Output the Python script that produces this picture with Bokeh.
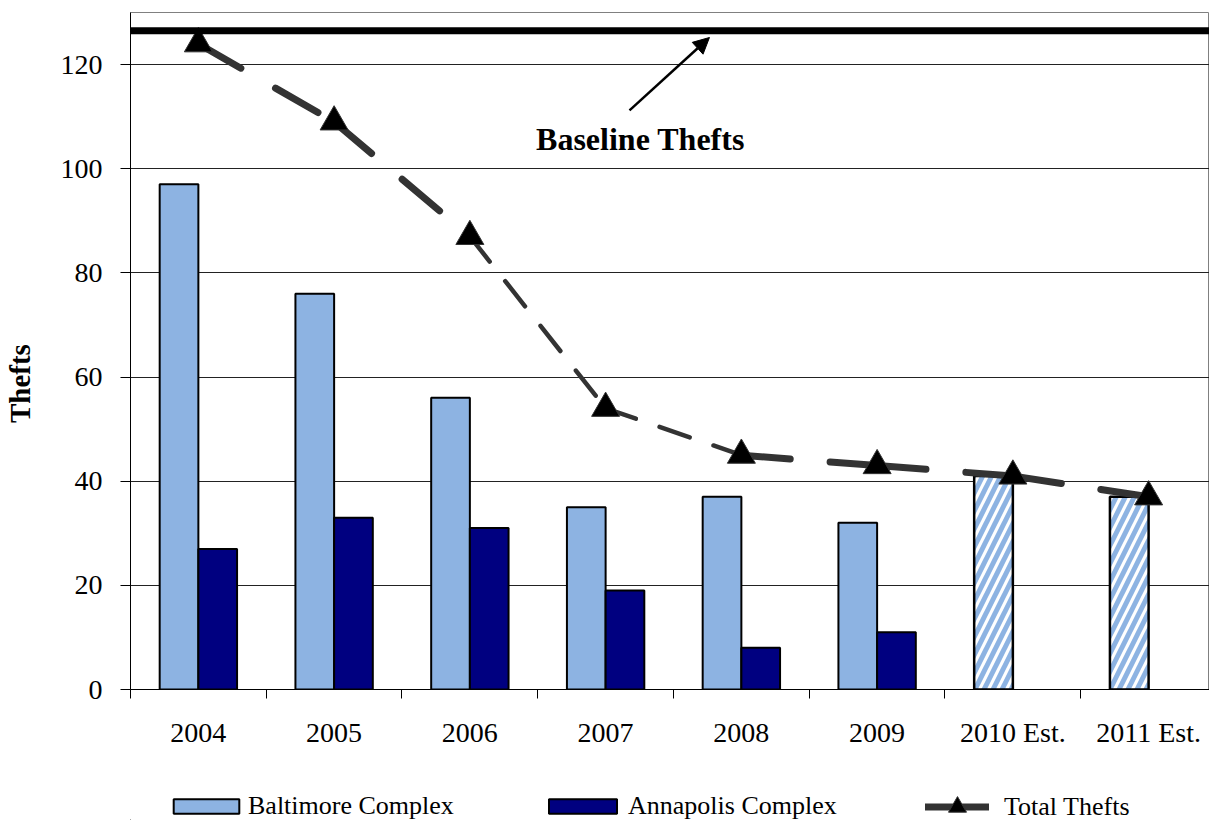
from bokeh.plotting import figure
from bokeh.layouts import column
from bokeh.models import (Range1d, FixedTicker, Span, Arrow, NormalHead, Label,
                          Legend, LegendItem)
from bokeh.embed import file_html
from bokeh.resources import INLINE

# ---- data -------------------------------------------------------------
years = ["2004", "2005", "2006", "2007", "2008", "2009", "2010 Est.", "2011 Est."]
baltimore = [97, 76, 56, 35, 37, 32]
annapolis = [27, 33, 31, 19, 8, 11]
estimated = [41, 37]
total_thefts = [124, 109, 87, 54, 45, 43, 41, 37]
baseline_thefts = 126.5
y_ticks = [0, 20, 40, 60, 80, 100, 120]

# ---- styling ----------------------------------------------------------
FONT = "Liberation Serif"
LIGHT_BLUE = "#8DB3E2"
NAVY = "#000080"
LINE_GREY = "#333333"
BAR_W = 0.285
PX_PER_CAT = 136
FRAME_LEFT = 128
FIG_W = 1209
CHART_H, LEGEND_H = 750, 70

BALT_STYLE = dict(fill_color=LIGHT_BLUE, line_color="black", line_width=2)
ANNA_STYLE = dict(fill_color=NAVY, line_color="black", line_width=2)
TOTAL_LINE_STYLE = dict(line_color=LINE_GREY, line_width=7, line_cap="round")
TRIANGLE_STYLE = dict(marker="triangle", size=28, fill_color="black",
                      line_color=LINE_GREY, line_width=1)

idx = list(range(len(years)))
n_actual = len(baltimore)
actual_idx = idx[:n_actual]
est_idx = idx[n_actual:]

frame_w = FIG_W - FRAME_LEFT
p = figure(width=FIG_W, height=CHART_H, output_backend="svg", toolbar_location=None,
           x_range=Range1d(-0.5, -0.5 + frame_w / PX_PER_CAT), y_range=Range1d(0, 130),
           min_border_left=FRAME_LEFT, min_border_right=0, min_border_top=12,
           min_border_bottom=61)
p.outline_line_color = "#808080"
p.background_fill_color = "white"

# axes
p.xgrid.visible = False
p.ygrid.ticker = FixedTicker(ticks=y_ticks)
p.ygrid.grid_line_color = "#222222"
p.ygrid.grid_line_width = 1

p.yaxis.ticker = FixedTicker(ticks=y_ticks, minor_ticks=[])
p.yaxis.major_tick_out = 10
p.yaxis.major_tick_in = 0
p.yaxis.minor_tick_line_color = None
p.yaxis.major_label_standoff = 18
p.yaxis.major_label_text_font = FONT
p.yaxis.major_label_text_font_size = "28px"
p.yaxis.major_label_text_color = "black"
p.yaxis.axis_line_color = "black"
p.yaxis.major_tick_line_color = "black"
# trailing no-break spaces push the title a little below the frame centre
p.yaxis.axis_label = "Thefts" + "\u00a0" * 9
p.yaxis.axis_label_text_font = FONT
p.yaxis.axis_label_text_font_style = "bold"
p.yaxis.axis_label_text_font_size = "29px"
p.yaxis.axis_label_text_color = "black"
p.yaxis.axis_label_standoff = 22

boundaries = [i - 0.5 for i in idx] + [idx[-1] + 0.5]
p.xaxis.ticker = FixedTicker(ticks=idx, minor_ticks=boundaries)
p.xaxis.major_label_overrides = {i: y for i, y in zip(idx, years)}
p.xaxis.major_tick_line_color = None
p.xaxis.major_tick_out = 0
p.xaxis.major_tick_in = 0
p.xaxis.minor_tick_line_color = "black"
p.xaxis.minor_tick_out = 9
p.xaxis.minor_tick_in = 0
p.xaxis.axis_line_color = "black"
p.xaxis.major_label_standoff = 18
p.xaxis.major_label_text_font = FONT
p.xaxis.major_label_text_font_size = "28px"
p.xaxis.major_label_text_color = "black"

# baseline
p.add_layout(Span(location=baseline_thefts, dimension="width",
                  line_color="black", line_width=7))

# bars
p.vbar(x=[i - BAR_W / 2 for i in actual_idx], top=baltimore, width=BAR_W, **BALT_STYLE)
p.vbar(x=[i + BAR_W / 2 for i in actual_idx], top=annapolis, width=BAR_W, **ANNA_STYLE)
p.vbar(x=[i - BAR_W / 2 for i in est_idx], top=estimated, width=BAR_W,
       fill_color="white", hatch_pattern="/", hatch_color=LIGHT_BLUE,
       hatch_scale=18, hatch_weight=5, line_color="black", line_width=2.5)

# total thefts line, drawn segment by segment
thin_segments = {2, 3}
seg = {"thick": ([], [], [], []), "thin": ([], [], [], [])}
for k in range(len(idx) - 1):
    key = "thin" if k in thin_segments else "thick"
    seg[key][0].append(idx[k]); seg[key][1].append(total_thefts[k])
    seg[key][2].append(idx[k + 1]); seg[key][3].append(total_thefts[k + 1])
p.segment(x0=seg["thick"][0], y0=seg["thick"][1], x1=seg["thick"][2], y1=seg["thick"][3],
          line_color=LINE_GREY, line_width=7, line_dash="49 40", line_cap="round")
p.segment(x0=seg["thin"][0], y0=seg["thin"][1], x1=seg["thin"][2], y1=seg["thin"][3],
          line_color=LINE_GREY, line_width=4.5, line_dash="32 25", line_cap="round")
p.scatter(x=idx, y=total_thefts, **TRIANGLE_STYLE)

# annotation
p.add_layout(Arrow(end=NormalHead(size=16, fill_color="black", line_color="black"),
                   x_start=3.176, y_start=111.2, x_end=3.765, y_end=125.2,
                   line_color="black", line_width=2.5))
p.add_layout(Label(x=3.257, y=105.8, text="Baseline Thefts", text_align="center",
                   text_baseline="middle", text_font=FONT, text_font_style="bold",
                   text_font_size="32px", text_color="black"))

# ---- legend strip (its frame lines up with the chart frame) ------------
lf = figure(width=FIG_W, height=LEGEND_H, output_backend="svg", toolbar_location=None,
            x_range=Range1d(0, 1), y_range=Range1d(0, 1), min_border=0,
            min_border_left=FRAME_LEFT, x_axis_location=None, y_axis_location=None)
lf.grid.visible = False
lf.outline_line_color = None

# key glyphs sit outside the visible range; only their legend swatches show
key_balt = lf.vbar(x=[-10], top=[-10], width=0.1, **BALT_STYLE)
key_anna = lf.vbar(x=[-10], top=[-10], width=0.1, **ANNA_STYLE)
key_line = lf.line(x=[-10, -9], y=[-10, -10], **TOTAL_LINE_STYLE)
key_tri = lf.scatter(x=[-10], y=[-10], **TRIANGLE_STYLE)


def add_legend(label, renderers, x, y, gw, gh, standoff):
    lg = Legend(items=[LegendItem(label=label, renderers=renderers)],
                location=(x, y), orientation="horizontal",
                glyph_width=gw, glyph_height=gh, label_standoff=standoff,
                padding=0, margin=0, spacing=0, border_line_color=None,
                background_fill_alpha=0, label_text_font=FONT,
                label_text_font_size="26px", label_text_color="black")
    lf.add_layout(lg)


add_legend("Baltimore Complex", [key_balt], 163 - FRAME_LEFT, -1, 82, 18, 1)
add_legend("Annapolis Complex", [key_anna], 538 - FRAME_LEFT, -1, 85, 18, 3)
add_legend("Total Thefts", [key_line, key_tri], 923 - FRAME_LEFT, -9, 64, 45, 15)

open("out.html", "w").write(file_html(column(p, lf, spacing=0), INLINE))
